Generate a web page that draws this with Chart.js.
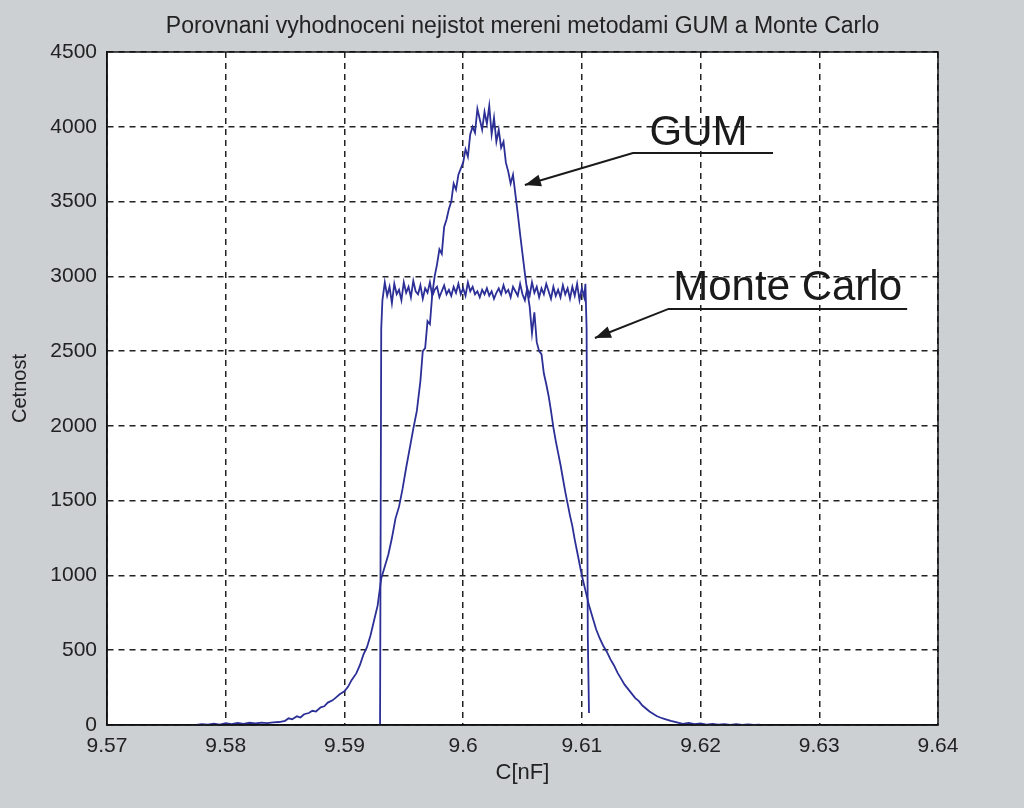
<!DOCTYPE html>
<html>
<head>
<meta charset="utf-8">
<script src="https://cdn.jsdelivr.net/npm/chart.js@4/dist/chart.umd.min.js"></script>
<style>
  html, body { margin: 0; padding: 0; background: #cdd0d3; }
</style>
</head>
<body>
<canvas id="graf" width="1024" height="808"></canvas>
<script>
// GUM histogram - C[nF] vs Cetnost
const gumC = [
  9.5775, 9.5780, 9.5785, 9.5790, 9.5795, 9.5800, 9.5805, 9.5810, 9.5815, 9.5820,
  9.5825, 9.5830, 9.5835, 9.5840, 9.5845, 9.5850, 9.5853, 9.5856, 9.5860, 9.5863,
  9.5866, 9.5870, 9.5873, 9.5876, 9.5880, 9.5883, 9.5886, 9.5890, 9.5893, 9.5896,
  9.5900, 9.5903, 9.5906, 9.5910, 9.5913, 9.5916, 9.5919, 9.5922, 9.5925, 9.5928,
  9.5931, 9.5934, 9.5937, 9.5940, 9.5943, 9.5946, 9.5949, 9.5952, 9.5955, 9.5958,
  9.5961, 9.5964, 9.5966, 9.5968, 9.5970, 9.5972, 9.5974, 9.5976, 9.5978, 9.5980,
  9.5982, 9.5984, 9.5986, 9.5988, 9.5990, 9.5992, 9.5994, 9.5996, 9.5998, 9.6000,
  9.6002, 9.6004, 9.6006, 9.6008, 9.6010, 9.6012, 9.6014, 9.6016, 9.6018, 9.6020,
  9.6022, 9.6024, 9.6026, 9.6028, 9.6030, 9.6032, 9.6034, 9.6036, 9.6038, 9.6040,
  9.6042, 9.6044, 9.6046, 9.6048, 9.6050, 9.6052, 9.6054, 9.6056, 9.6058, 9.6060,
  9.6062, 9.6064, 9.6066, 9.6068, 9.6070, 9.6072, 9.6074, 9.6076, 9.6078, 9.6080,
  9.6082, 9.6084, 9.6086, 9.6088, 9.6090, 9.6092, 9.6094, 9.6096, 9.6098, 9.6100,
  9.6103, 9.6106, 9.6109, 9.6112, 9.6115, 9.6118, 9.6121, 9.6124, 9.6127, 9.6130,
  9.6133, 9.6136, 9.6139, 9.6142, 9.6145, 9.6148, 9.6151, 9.6154, 9.6157, 9.6160,
  9.6163, 9.6166, 9.6170, 9.6175, 9.6180, 9.6185, 9.6190, 9.6195, 9.6200, 9.6205,
  9.6210, 9.6215, 9.6220, 9.6225, 9.6230, 9.6235, 9.6240, 9.6245, 9.6250
];
const gumN = [
  0, 6, 2, 9, 3, 12, 5, 14, 8, 15,
  10, 16, 12, 18, 20, 28, 45, 38, 58, 50,
  72, 80, 95, 90, 118, 125, 150, 165, 185, 205,
  225, 255, 300, 345, 400, 470, 520, 600, 700, 800,
  980, 1060, 1140, 1250, 1380, 1460, 1580, 1720, 1850, 1980,
  2100, 2300, 2500, 2520, 2700, 2680, 2880, 3000, 3080, 3180,
  3150, 3330, 3380, 3450, 3500, 3620, 3580, 3680, 3720, 3760,
  3850, 3800, 3950, 4000, 3960, 4120, 4050, 3980, 4100, 4020,
  4140, 3950, 4060, 3900, 3980, 3860, 3900, 3760, 3700, 3620,
  3680, 3550, 3420, 3280, 3150, 3020, 2900, 2800, 2620, 2760,
  2560, 2500, 2480, 2350, 2280, 2200, 2100, 1990, 1900, 1820,
  1740, 1650, 1560, 1480, 1400, 1330, 1240, 1160, 1080, 1000,
  900, 800, 720, 640, 580, 530, 490, 440, 400, 350,
  310, 270, 240, 210, 180, 160, 130, 110, 90, 75,
  60, 50, 40, 28, 18, 8, 14, 5, 10, 3,
  8, 2, 6, 1, 5, 0, 4, 0, 3
];

// Monte Carlo histogram
const mcC = [
  9.5930, 9.5931, 9.5932, 9.5934, 9.5936, 9.5938, 9.5940, 9.5942, 9.5944, 9.5946,
  9.5948, 9.5950, 9.5952, 9.5954, 9.5956, 9.5958, 9.5960, 9.5962, 9.5964, 9.5966,
  9.5968, 9.5970, 9.5972, 9.5974, 9.5976, 9.5978, 9.5980, 9.5982, 9.5984, 9.5986,
  9.5988, 9.5990, 9.5992, 9.5994, 9.5996, 9.5998, 9.6000, 9.6002, 9.6004, 9.6006,
  9.6008, 9.6010, 9.6012, 9.6014, 9.6016, 9.6018, 9.6020, 9.6022, 9.6024, 9.6026,
  9.6028, 9.6030, 9.6032, 9.6034, 9.6036, 9.6038, 9.6040, 9.6042, 9.6044, 9.6046,
  9.6048, 9.6050, 9.6052, 9.6054, 9.6056, 9.6058, 9.6060, 9.6062, 9.6064, 9.6066,
  9.6068, 9.6070, 9.6072, 9.6074, 9.6076, 9.6078, 9.6080, 9.6082, 9.6084, 9.6086,
  9.6088, 9.6090, 9.6092, 9.6094, 9.6096, 9.6098, 9.6100, 9.6102, 9.6103, 9.6104,
  9.6105, 9.6106
];
const mcN = [
  0, 2650, 2840, 2960, 2870, 2930, 2820, 2950, 2880, 2910,
  2840, 2960, 2890, 2930, 2860, 2970, 2900, 2880, 2940, 2850,
  2920, 2890, 2960, 2870, 2910, 2930, 2860, 2900, 2940, 2880,
  2910, 2870, 2930, 2890, 2950, 2880, 2920, 2870, 2960, 2900,
  2930, 2880, 2900, 2860, 2910, 2880, 2920, 2870, 2900, 2850,
  2890, 2920, 2880, 2940, 2890, 2910, 2860, 2930, 2900, 2870,
  2950, 2880, 2840, 2920, 2870, 2960, 2890, 2930, 2860, 2920,
  2880, 2950, 2900, 2850, 2930, 2870, 2910, 2860, 2940, 2880,
  2920, 2850, 2930, 2870, 2950, 2840, 2920, 2860, 2950, 2650,
  600, 80
];

const xTicks = [9.57, 9.58, 9.59, 9.60, 9.61, 9.62, 9.63, 9.64];
const xTickLabels = ["9.57", "9.58", "9.59", "9.6", "9.61", "9.62", "9.63", "9.64"];
const yTicks = [0, 500, 1000, 1500, 2000, 2500, 3000, 3500, 4000, 4500];

const nadpis = "Porovnani vyhodnoceni nejistot mereni metodami GUM a Monte Carlo";

// popisky se sipkou (v datovych souradnicich)
const popisky = [
  { text: "GUM", textAt: [9.6157, 3878], lineFrom: [9.6143, 3825], lineTo: [9.6261, 3825], tip: [9.6052, 3611] },
  { text: "Monte Carlo", textAt: [9.6177, 2842], lineFrom: [9.6173, 2782], lineTo: [9.6374, 2782], tip: [9.6111, 2588] }
];

const barvaCary = "#2b2f96";
const pismo = "'Liberation Sans', Arial, sans-serif";

function body(xs, ys) {
  return xs.map((x, i) => ({ x: x, y: ys[i] }));
}

const pozadiPlugin = {
  id: "pozadi",
  beforeDraw(chart) {
    const { ctx, chartArea: a } = chart;
    ctx.save();
    ctx.fillStyle = "#cdd0d3";
    ctx.fillRect(0, 0, chart.width, chart.height);
    ctx.fillStyle = "#ffffff";
    ctx.fillRect(a.left, a.top, a.right - a.left, a.bottom - a.top);
    ctx.restore();
  },
  afterDraw(chart) {
    const { ctx, chartArea: a, scales } = chart;
    ctx.save();
    ctx.strokeStyle = "#111";
    ctx.lineWidth = 1.5;
    ctx.strokeRect(a.left, a.top, a.right - a.left, a.bottom - a.top);

    // nadpis nad grafem
    ctx.fillStyle = "#222";
    ctx.font = "23px " + pismo;
    ctx.textAlign = "center";
    ctx.textBaseline = "middle";
    ctx.fillText(nadpis, (a.left + a.right) / 2, 27);

    // popisky GUM / Monte Carlo
    ctx.fillStyle = "#1a1a1a";
    ctx.strokeStyle = "#1a1a1a";
    ctx.font = "42px " + pismo;
    ctx.textBaseline = "alphabetic";
    ctx.textAlign = "left";
    popisky.forEach((p) => {
      const px = (v) => scales.x.getPixelForValue(v[0]);
      const py = (v) => scales.y.getPixelForValue(v[1]);
      ctx.fillText(p.text, px(p.textAt), py(p.textAt));
      ctx.lineWidth = 2;
      ctx.beginPath();
      ctx.moveTo(px(p.lineTo), py(p.lineTo));
      ctx.lineTo(px(p.lineFrom), py(p.lineFrom));
      ctx.lineTo(px(p.tip), py(p.tip));
      ctx.stroke();
      // hlavicka sipky
      const dx = px(p.tip) - px(p.lineFrom);
      const dy = py(p.tip) - py(p.lineFrom);
      const ang = Math.atan2(dy, dx);
      const L = 16, W = 6;
      ctx.beginPath();
      ctx.moveTo(px(p.tip), py(p.tip));
      ctx.lineTo(px(p.tip) - L * Math.cos(ang) + W * Math.sin(ang), py(p.tip) - L * Math.sin(ang) - W * Math.cos(ang));
      ctx.lineTo(px(p.tip) - L * Math.cos(ang) - W * Math.sin(ang), py(p.tip) - L * Math.sin(ang) + W * Math.cos(ang));
      ctx.closePath();
      ctx.fill();
    });
    ctx.restore();
  }
};

const ctx = document.getElementById("graf");

new Chart(ctx, {
  type: "line",
  data: {
    datasets: [
      {
        label: "GUM",
        data: body(gumC, gumN),
        borderColor: barvaCary,
        borderWidth: 1.8,
        pointRadius: 0,
        tension: 0,
        fill: false,
      },
      {
        label: "Monte Carlo",
        data: body(mcC, mcN),
        borderColor: barvaCary,
        borderWidth: 1.8,
        pointRadius: 0,
        tension: 0,
        fill: false,
      },
    ],
  },
  options: {
    responsive: false,
    animation: false,
    layout: { padding: { top: 52, right: 86, bottom: 0, left: 0 } },
    plugins: {
      legend: { display: false },
      tooltip: { enabled: false },
      title: { display: false },
    },
    scales: {
      x: {
        type: "linear",
        min: 9.57,
        max: 9.64,
        afterBuildTicks: (s) => { s.ticks = xTicks.map((v) => ({ value: v })); },
        afterFit: (s) => { s.height = 83; },
        ticks: {
          padding: 9,
          color: "#222",
          maxRotation: 0,
          font: { family: pismo, size: 21 },
          callback: (v, i) => xTickLabels[i],
        },
        grid: { color: "#222", lineWidth: 1.5, drawTicks: false },
        border: { display: true, color: "#111", width: 1.5, dash: [6, 5] },
        title: {
          display: true,
          text: "C[nF]",
          color: "#222",
          font: { family: pismo, size: 22 },
          padding: { top: 0, bottom: 22 },
        },
      },
      y: {
        min: 0,
        max: 4500,
        afterBuildTicks: (s) => { s.ticks = yTicks.map((v) => ({ value: v })); },
        afterFit: (s) => { s.width = 107; },
        ticks: {
          padding: 10,
          color: "#222",
          font: { family: pismo, size: 21 },
          callback: (v) => String(v),
        },
        grid: { color: "#222", lineWidth: 1.5, drawTicks: false },
        border: { display: true, color: "#111", width: 1.5, dash: [6, 5] },
        title: {
          display: true,
          text: "Cetnost",
          color: "#222",
          font: { family: pismo, size: 20 },
          padding: { top: 8, bottom: 0 },
        },
      },
    },
  },
  plugins: [pozadiPlugin],
});
</script>
</body>
</html>
